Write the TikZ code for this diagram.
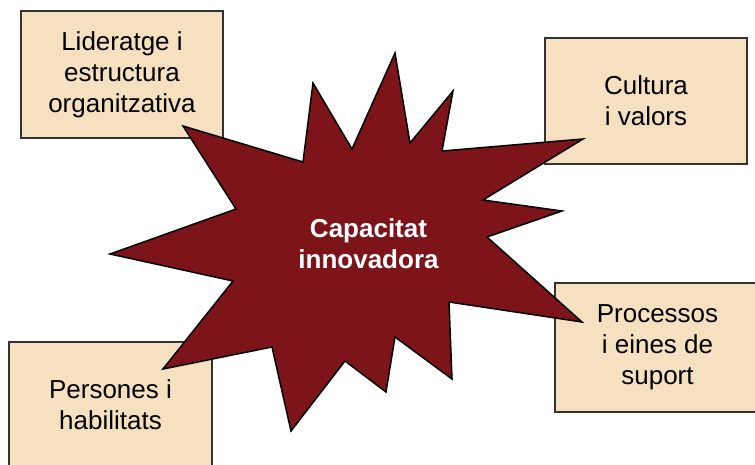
\documentclass[tikz,border=0pt]{standalone}
\usepackage{fontspec}
\setmainfont{Liberation Sans}
\definecolor{boxfill}{RGB}{245,224,191}
\definecolor{burstred}{RGB}{124,20,26}

\begin{document}
\begin{tikzpicture}[x=1pt, y=-1pt,
  factor/.style={draw=black!80, line width=1.6pt, fill=boxfill, align=center, inner sep=0pt, font=\fontsize{26}{31}\selectfont},
  burst/.style={fill=burstred, draw=black, line width=1.5pt, line join=miter}]
\useasboundingbox (0,0) rectangle (755,464);
\node[factor, minimum width=202, minimum height=127] (lid) at (122,74.5) {Lideratge i\\estructura\\organitzativa};
\node[factor, minimum width=202, minimum height=126] (cul) at (646,101) {Cultura\\i valors};
\node[factor, minimum width=203, minimum height=126] (per) at (110.5,405) {Persones i\\habilitats};
\node[factor, minimum width=205, minimum height=129] (pro) at (657.5,347.5) {Processos\\i eines de\\suport};
\filldraw[burst] (183,126) -- (303,162) -- (313,83) -- (352,149) -- (395,53) -- (410,143)
  -- (453,91) -- (442,151) -- (583,139) -- (483,200) -- (562,211) -- (487,237)
  -- (582,322) -- (449,302) -- (452,379) -- (395,337) -- (386,392) -- (345,361)
  -- (291,431) -- (272,347) -- (163,369) -- (233,281) -- (110,254) -- (236,209) -- cycle;
\node[text=white, align=center, font=\bfseries\fontsize{26}{31}\selectfont] (cap) at (368.5,244) {Capacitat\\innovadora};
\end{tikzpicture}
\end{document}
